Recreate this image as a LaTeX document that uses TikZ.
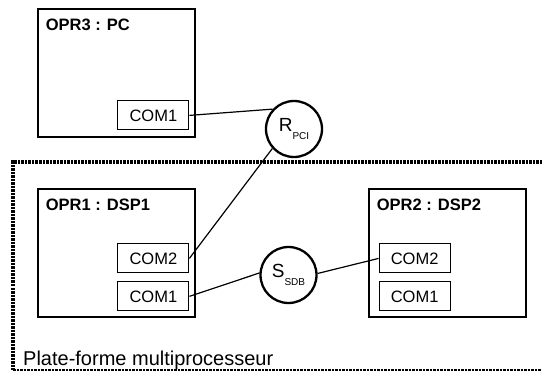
\documentclass[tikz,border=0pt]{standalone}
\usepackage{fontspec}
\setmainfont{Liberation Sans}
\usetikzlibrary{positioning}

\newcommand{\busidx}[1]{\raisebox{-8pt}{\fontsize{10}{10}\selectfont #1}}

\begin{document}
\begin{tikzpicture}[
    x=1pt, y=1pt,
    unit/.style={rectangle, draw, line width=2.8pt, minimum width=157pt, minimum height=128pt, inner sep=0pt},
    unitname/.style={inner sep=0pt, font=\fontsize{16.5}{18}\selectfont\bfseries},
    port/.style={rectangle, draw, line width=1pt, minimum width=71pt, minimum height=29pt, inner sep=0pt, font=\fontsize{16.5}{18}\selectfont},
    bus/.style={circle, draw, line width=2.3pt, minimum size=56pt, inner sep=0pt, font=\fontsize{19}{20}\selectfont},
    link/.style={line width=1.2pt},
    frame/.style={dash pattern=on 2.5pt off 1pt}
  ]
  \useasboundingbox (0,0) rectangle (542,373);
  % platform frame
  \draw [frame, line width=3.5pt] (542,211) -- (13,211) -- (13,3);
  \draw [frame, line width=1.5pt] (13,3) -- (542,3);
  \node (plat) [anchor=base west, inner sep=0pt, font=\fontsize{20}{22}\selectfont] at (23,8) {Plate-forme multiprocesseur};

  % processors
  \node (opr3) [unit] at (116.5,300) {};
  \node (opr1) [unit] at (116.5,120) {};
  \node (opr2) [unit] at (447.5,120) {};
  \node (opr3name) [unitname, below right=11.5pt and 9pt of opr3.north west] {OPR3 : PC};
  \node (opr1name) [unitname, below right=11.5pt and 9pt of opr1.north west] {OPR1 : DSP1};
  \node (opr2name) [unitname, below right=11.5pt and 9pt of opr2.north west] {OPR2 : DSP2};

  % ports
  \node (p3com1) [port, above left=8pt and 7pt of opr3.south east] {COM1};
  \node (p1com1) [port, above left=7pt and 7pt of opr1.south east] {COM1};
  \node (p1com2) [port, above=8pt of p1com1] {COM2};
  \node (p2com1) [port, above right=7pt and 11pt of opr2.south west] {COM1};
  \node (p2com2) [port, above=8pt of p2com1] {COM2};

  % buses
  \node (rpci) [bus] at (294,244) {R\busidx{PCI}};
  \node (ssdb) [bus] at (288.5,98) {S\busidx{SDB}};

  \draw [link] (p3com1.east) -- (rpci.137);
  \draw [link] (rpci.222) -- (p1com2.east);
  \draw [link] (p1com1.east) -- (ssdb.176);
  \draw [link] (ssdb.3) -- (p2com2.west);
\end{tikzpicture}
\end{document}
